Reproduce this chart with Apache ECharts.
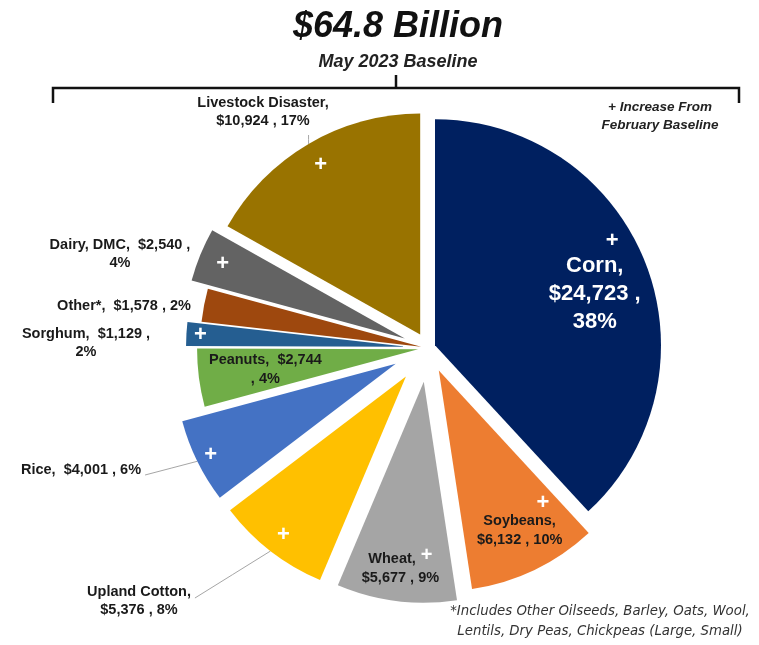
<!DOCTYPE html>
<html><head><meta charset="utf-8">
<script src="https://cdn.jsdelivr.net/npm/echarts@6/dist/echarts.min.js"></script>
<style>html,body{margin:0;padding:0;background:#fff}#c{width:759px;height:645px}</style>
</head><body><div id="c"></div>
<script>
// ---------- DATA ----------
const categories = ['Corn','Soybeans','Wheat','Upland Cotton','Rice','Peanuts','Sorghum','Other*','Dairy, DMC','Livestock Disaster'];
const values = [24723, 6132, 5677, 5376, 4001, 2744, 1129, 1578, 2540, 10924];
const increased = [true, true, true, true, true, false, true, false, true, true];
const titleText = '$64.8 Billion';
const subtitleText = 'May 2023 Baseline';
const noteText = '+ Increase From\nFebruary Baseline';
const footnoteText = '*Includes Other Oilseeds, Barley, Oats, Wool,\nLentils, Dry Peas, Chickpeas (Large, Small)';

// ---------- STYLE ----------
const FONT = "'Liberation Sans', Arial, sans-serif";
const CENTER = [428, 348];
const R = 221;
const LBL = 14.5;
const look = {
  'Corn':              {color:'#002060', offset:7.5, r:226, inside:{r0:111, pad:[0,0,0,0], tpl:'{plus|+}\n{big|%n,}\n{big|%v ,}\n{big|%p}'}},
  'Soybeans':          {color:'#ED7D31', offset:25, inside:{r0:109, pad:[0,0,0,16], tpl:'{plusB|+}\n{t|%n,}\n{t|%v , %p}'}},
  'Wheat':             {color:'#A5A5A5', offset:34, inside:{r0:150, pad:[0,0,0,0], tpl:'{t|%n,}{plusS|+}\n{t|%v , %p}'}},
  'Upland Cotton':     {color:'#FFC000', offset:36, plusR0:173, outside:{x:139, y:601, line:'right', tpl:'%n,\n%v , %p'}},
  'Rice':              {color:'#4472C4', offset:36, plusR0:185, outside:{x:81, y:470, line:'right', tpl:'%n,  %v , %p'}},
  'Peanuts':           {color:'#70AD47', offset:10, inside:{r0:81, pad:[0,0,0,0], tpl:'{t|%n,  %v}\n{t|, %p}'}},
  'Sorghum':           {color:'#255E91', offset:21, plusR0:187, outside:{x:86, y:343, line:null, tpl:'%n,  %v ,\n%p'}},
  'Other*':            {color:'#9E480E', offset:7, outside:{x:124, y:306, line:null, tpl:'%n,  %v , %p'}},
  'Dairy, DMC':        {color:'#636363', offset:25, plusR0:167, outside:{x:120, y:254, line:null, tpl:'%n,  %v ,\n%p'}},
  'Livestock Disaster':{color:'#997300', offset:15.5, plusR0:167, outside:{x:263, y:112, line:'below', tpl:'%n,\n%v , %p'}}
};

const fmtVal = v => '$' + v.toLocaleString('en-US');
const fill = (tpl, p) => tpl.replace('%n', p.name).replace('%v', fmtVal(p.value)).replace('%p', Math.round(p.percent) + '%');
const CLEAR = 'rgba(0,0,0,0)';

const richInside = {
  big:  {color:'#fff', fontSize:22, lineHeight:28, fontFamily:FONT, fontWeight:'bold'},
  plus: {color:'#fff', fontSize:22, lineHeight:22, fontFamily:FONT, fontWeight:'bold', align:'right', padding:[0,22,0,0]},
  plusB:{color:'#fff', fontSize:22, lineHeight:18, fontFamily:FONT, fontWeight:'bold', align:'right', padding:[0,13,0,0]},
  plusS:{color:'#fff', fontSize:20, lineHeight:18, fontFamily:FONT, fontWeight:'bold', padding:[0,0,8,5]},
  t:    {color:'#1a1a1a', fontSize:LBL, lineHeight:19, fontFamily:FONT, fontWeight:'bold'}
};

function base(radius, offset) {
  return {
    type:'pie', center:CENTER, radius:radius, startAngle:90, clockwise:true,
    animation:false, silent:true, selectedMode: offset ? 'single' : false, selectedOffset:offset || 0,
    avoidLabelOverlap:false, percentPrecision:0, emphasis:{disabled:true},
    minShowLabelAngle:0
  };
}
function items(i, color, showLabel, showLine, sel) {
  return categories.map((n, j) => ({
    name:n, value:values[j], selected: sel && j === i,
    itemStyle:{color: j === i ? color : CLEAR, borderWidth:0},
    label:{show: showLabel && j === i},
    labelLine:{show: showLine && j === i}
  }));
}

const series = [];
categories.forEach((name, i) => {
  const L = look[name];
  const r = L.r || R;
  // visible exploded slice
  const s = base([0, r], L.offset);
  s.data = items(i, L.color, false, false, true);
  series.push(s);

  // outside label (unexploded transparent carrier whose rim meets the exploded slice's rim)
  if (L.outside) {
    const o = base([0, r + L.offset], 0);
    o.data = items(i, CLEAR, true, !!L.outside.line, false);
    o.label = {
      position:'outside', color:'#1a1a1a', fontSize:LBL, lineHeight:18, fontWeight:'bold',
      fontFamily:FONT, align:'center',
      formatter: p => fill(L.outside.tpl, p)
    };
    o.labelLine = {lineStyle:{color:'#a6a6a6', width:1}, length:10, length2:10};
    o.labelLayout = p => {
      if (p.dataIndex !== i) return {};
      const res = {x:L.outside.x, y:L.outside.y, align:'center', verticalAlign:'middle'};
      if (L.outside.line && p.labelLinePoints) {
        const st = p.labelLinePoints[0];
        const w = p.labelRect.width, h = p.labelRect.height;
        let end;
        if (L.outside.line === 'right') end = [L.outside.x + w / 2 + 4, L.outside.y + (h > 25 ? -3 : 5)];
        else end = [st[0], L.outside.y + h / 2 + 5];
        res.labelLinePoints = [st, [(st[0] + end[0]) / 2, (st[1] + end[1]) / 2], end];
      }
      return res;
    };
    series.push(o);
  }

  // inside label ring
  if (L.inside) {
    const t = base([L.inside.r0, r], L.offset);
    t.data = items(i, CLEAR, true, false, true);
    t.label = {position:'inside', align:'center', rich:richInside, padding:L.inside.pad,
      formatter: p => fill(L.inside.tpl, p)};
    series.push(t);
  }
  // plus marker ring (outside-labelled slices that increased)
  if (increased[i] && L.plusR0) {
    const q = base([L.plusR0, r], L.offset);
    q.data = items(i, CLEAR, true, false, true);
    q.label = {position:'inside', formatter:'+', color:'#fff', fontSize:22, fontWeight:'bold', fontFamily:FONT};
    series.push(q);
  }
});

const chart = echarts.init(document.getElementById('c'));
chart.setOption({
  backgroundColor:'#fff',
  animation:false,
  title:{
    text:titleText, subtext:subtitleText, left:393, top:4, textAlign:'center', itemGap:8,
    textStyle:{fontFamily:FONT, fontStyle:'italic', fontWeight:'bold', fontSize:36, color:'#111'},
    subtextStyle:{fontFamily:FONT, fontStyle:'italic', fontWeight:'bold', fontSize:18, color:'#222'}
  },
  graphic:[
    {type:'polyline', silent:true, shape:{points:[[53,103],[53,88],[739,88],[739,103]]},
      style:{fill:null, stroke:'#111', lineWidth:2.5}},
    {type:'polyline', silent:true, shape:{points:[[396,88],[396,75]]},
      style:{fill:null, stroke:'#111', lineWidth:2.5}},
    {type:'text', silent:true, x:660, y:98,
      style:{text:noteText, align:'center', verticalAlign:'top', lineHeight:18,
        font:"italic bold 13.5px 'Liberation Sans', Arial, sans-serif", fill:'#222'}},
    {type:'text', silent:true, x:600, y:602,
      style:{text:footnoteText, align:'center', verticalAlign:'top', lineHeight:20,
        font:"italic 13.3px 'DejaVu Sans', 'Liberation Sans', sans-serif", fill:'#333'}}
  ],
  series:series
});
</script></body></html>
